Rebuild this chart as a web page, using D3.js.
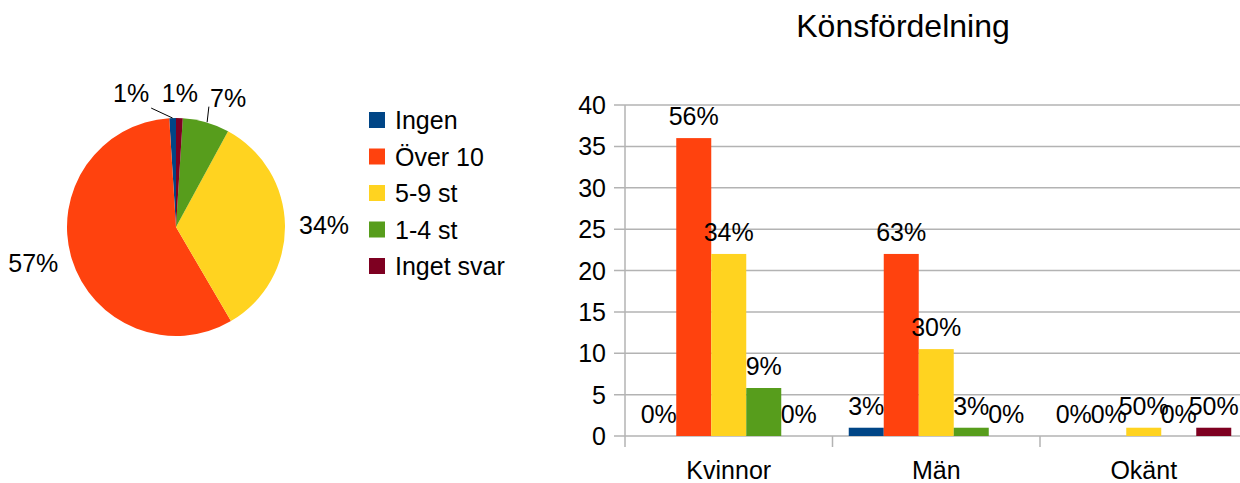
<!DOCTYPE html>
<html>
<head>
<meta charset="utf-8">
<script src="https://cdn.jsdelivr.net/npm/d3@7"></script>
<style>
	body { margin: 0; background: #fff; }
	text { font-family: "Liberation Sans", Arial, sans-serif; fill: #000; }
</style>
</head>
<body>
<div id="chart"></div>
<script>

// data
var seriesNames=["Ingen", "Över 10", "5-9 st", "1-4 st", "Inget svar"];
var seriesColors=["#004586", "#ff420e", "#ffd320", "#579d1c", "#7e0021"];

var pieValues=[1, 58, 34, 7, 1];
var pieLabels=["1%", "57%", "34%", "7%", "1%"];

var categories=["Kvinnor", "Män", "Okänt"];
var ingenVals=[0, 1, 0];
var over10Vals=[36, 22, 0];
var st59Vals=[22, 10.5, 1];
var st14Vals=[5.8, 1, 0];
var ingetSvarVals=[0, 0, 1];

var ingenLbl=["0%", "3%", "0%"];
var over10Lbl=["56%", "63%", "0%"];
var st59Lbl=["34%", "30%", "50%"];
var st14Lbl=["9%", "3%", "0%"];
var ingetSvarLbl=["0%", "0%", "50%"];

var yTicks=[0, 5, 10, 15, 20, 25, 30, 35, 40];
var chartTitle="Könsfördelning";

var barValues=[ingenVals, over10Vals, st59Vals, st14Vals, ingetSvarVals];
var barLabels=[ingenLbl, over10Lbl, st59Lbl, st14Lbl, ingetSvarLbl];

var svgWidth=1240;
var svgHeight=483;

var svg=d3.select("#chart")
	.append("svg")
	.attr("width", svgWidth)
	.attr("height", svgHeight);

// ---------- pie ----------
var cx=176, cy=227, radius=109;

var pie=d3.pie()
	.sort(null)
	.startAngle(0)
	.endAngle(-2 * Math.PI);

var arcs=pie(pieValues);
var arc=d3.arc().innerRadius(0).outerRadius(radius);

var pieGroup=svg.append("g")
	.attr("transform", `translate(${cx}, ${cy})`);

pieGroup.selectAll("path")
	.data(arcs)
	.enter()
	.append("path")
	.attr("d", arc)
	.attr("fill", (d, i) => seriesColors[i]);

// label nudges (collision shift like in the original)
var labelShift=[-41, 0, 0, 0, 0];
var leaderFor=[true, false, false, true, false];

arcs.forEach(function(d, i){
	var a=(d.startAngle + d.endAngle) / 2;
	var s=Math.sin(a), c=-Math.cos(a);
	var lr=radius + 14;
	var px=lr * s + labelShift[i];
	var py=lr * c;
	var anchor=s > 0.1 ? "start" : (s < -0.3 ? "end" : "middle");
	if (labelShift[i] != 0) anchor="middle";
	var dy=c < -0.5 ? -2 : (c > 0.5 ? 18 : 9);

	if (leaderFor[i]) {
		var ex=radius * s, ey=radius * c;
		var tx, ty;
		if (labelShift[i] != 0) { tx=px + 20; ty=py + 4; }
		else { tx=(radius + 10) * s; ty=(radius + 10) * c - 6; ex=ex + 1; }
		pieGroup.append("line")
			.attr("x1", ex).attr("y1", ey)
			.attr("x2", tx).attr("y2", ty)
			.attr("stroke", "#000")
			.attr("stroke-width", 1);
	}

	pieGroup.append("text")
		.attr("x", px)
		.attr("y", py + dy)
		.attr("text-anchor", anchor)
		.attr("font-size", 25)
		.text(pieLabels[i]);
});

// legend
var legend=svg.append("g")
	.attr("transform", "translate(369, 120)");

var legendItem=legend.selectAll("g")
	.data(seriesNames)
	.enter()
	.append("g")
	.attr("transform", (d, i) => `translate(0, ${i * 36.5})`);

legendItem.append("rect")
	.attr("x", 0)
	.attr("y", -8)
	.attr("width", 16)
	.attr("height", 16)
	.attr("fill", (d, i) => seriesColors[i]);

legendItem.append("text")
	.attr("x", 26)
	.attr("y", 9)
	.attr("font-size", 25)
	.text(d => d);

// ---------- bar chart ----------
var plotLeft=625, plotRight=1247.5, plotTop=105, plotBottom=436;

var xScale=d3.scaleBand()
	.domain(categories)
	.range([plotLeft, plotRight])
	.padding(0);

var xInner=d3.scaleBand()
	.domain(seriesNames)
	.range([0, xScale.bandwidth()])
	.paddingInner(0)
	.paddingOuter(0.464);

var yScale=d3.scaleLinear()
	.domain([0, 40])
	.range([plotBottom, plotTop]);

svg.append("text")
	.attr("x", 903)
	.attr("y", 37)
	.attr("text-anchor", "middle")
	.attr("font-size", 32)
	.text(chartTitle);

var grid=svg.append("g");

grid.selectAll("line")
	.data(yTicks)
	.enter()
	.append("line")
	.attr("x1", plotLeft - 11)
	.attr("x2", plotRight)
	.attr("y1", d => yScale(d))
	.attr("y2", d => yScale(d))
	.attr("stroke", "#b3b3b3")
	.attr("stroke-width", 1.5);

grid.selectAll("text")
	.data(yTicks)
	.enter()
	.append("text")
	.attr("x", 606)
	.attr("y", d => yScale(d) + 9)
	.attr("text-anchor", "end")
	.attr("font-size", 25)
	.text(d => d);

// axis line + category separators
svg.append("line")
	.attr("x1", plotLeft).attr("x2", plotLeft)
	.attr("y1", plotTop).attr("y2", plotBottom + 11)
	.attr("stroke", "#b3b3b3")
	.attr("stroke-width", 1.5);

svg.append("g")
	.selectAll("line")
	.data(categories.slice(1))
	.enter()
	.append("line")
	.attr("x1", d => xScale(d))
	.attr("x2", d => xScale(d))
	.attr("y1", plotBottom)
	.attr("y2", plotBottom + 11)
	.attr("stroke", "#b3b3b3")
	.attr("stroke-width", 1.5);

svg.append("g")
	.selectAll("text")
	.data(categories)
	.enter()
	.append("text")
	.attr("x", d => xScale(d) + xScale.bandwidth() / 2)
	.attr("y", 479)
	.attr("text-anchor", "middle")
	.attr("font-size", 25)
	.text(d => d);

// bars
var barRows=[];
seriesNames.forEach(function(s, si){
	categories.forEach(function(c, ci){
		barRows.push({series: s, si: si, cat: c, value: barValues[si][ci], label: barLabels[si][ci]});
	});
});

var barGroup=svg.append("g");

barGroup.selectAll("rect")
	.data(barRows)
	.enter()
	.append("rect")
	.attr("x", d => xScale(d.cat) + xInner(d.series))
	.attr("y", d => yScale(d.value))
	.attr("width", xInner.bandwidth())
	.attr("height", d => plotBottom - yScale(d.value))
	.attr("fill", d => seriesColors[d.si]);

// value labels (the Okänt ones overlap in the original too)
barGroup.selectAll("text")
	.data(barRows)
	.enter()
	.append("text")
	.attr("x", d => xScale(d.cat) + xInner(d.series) + xInner.bandwidth() / 2)
	.attr("y", d => yScale(d.value) - 13)
	.attr("text-anchor", "middle")
	.attr("font-size", 25)
	.text(d => d.label);

</script>
</body>
</html>
